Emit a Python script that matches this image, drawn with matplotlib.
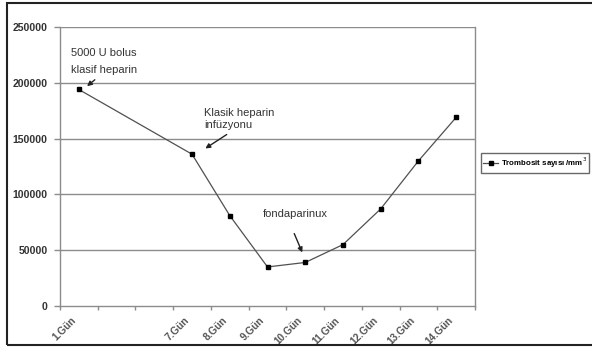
import matplotlib.pyplot as plt
from matplotlib.patches import Rectangle
from matplotlib.transforms import ScaledTranslation, blended_transform_factory

days = ["1.Gün", "", "", "7.Gün", "8.Gün", "9.Gün", "10.Gün",
        "11.Gün", "12.Gün", "13.Gün", "14.Gün"]
point_days = [0, 3, 4, 5, 6, 7, 8, 9, 10]
trombosit = [194000, 136000, 81000, 35000, 39000, 55000, 87000, 130000, 169000]
y_ticks = [0, 50000, 100000, 150000, 200000, 250000]

plt.rcParams['font.family'] = ['Liberation Sans', 'DejaVu Sans']

fig = plt.figure(figsize=(5.92, 3.47), dpi=100)
W, H = 592, 347
ax = fig.add_axes([60 / W, 1 - 306 / H, (475 - 60) / W, (306 - 27) / H])

grid_col = '#8c8c8c'
for y in y_ticks[1:]:
    ax.axhline(y, color=grid_col, lw=1.0, zorder=1)

ax.plot(point_days, trombosit, color='#505050', lw=0.9, marker='s',
        markersize=3, markerfacecolor='black', markeredgecolor='black',
        label="Trombosit sayısı /mm$^3$", zorder=3)

ax.set_xlim(-0.5, len(days) - 0.5)
ax.set_ylim(0, 250000)
# category boundaries carry the tick marks, labels are drawn at the centres
ax.set_xticks([i - 0.5 for i in range(len(days) + 1)])
ax.set_xticklabels([])
ax.tick_params(axis='x', length=3, width=1, color=grid_col, direction='out')
lab_tr = blended_transform_factory(ax.transData, ax.transAxes) + \
    ScaledTranslation(-8 / 100, -9 / 100, fig.dpi_scale_trans)
for i, d in enumerate(days):
    ax.text(i, 0, d, transform=lab_tr, rotation=45, ha='right', va='top',
            rotation_mode='anchor', fontsize=7.3, fontweight='bold',
            color='#555555', clip_on=False)

ax.set_yticks(y_ticks)
ax.set_yticklabels([str(v) for v in y_ticks], fontsize=7.6, fontweight='bold',
                   color='#333333')
ax.tick_params(axis='y', length=4, width=1, color=grid_col, pad=5)
for s in ax.spines.values():
    s.set_color(grid_col)
    s.set_linewidth(1.0)
ax.spines['top'].set_visible(False)

ann = dict(fontsize=8, color='#333333', va='center')
arrow = dict(arrowstyle='-|>', color='#222222', lw=1, mutation_scale=7)
ax.text(-0.21, 226700, "5000 U bolus", **ann)
ax.text(-0.21, 211500, "klasif heparin", **ann)
ax.annotate("", xy=(0.16, 195400), xytext=(0.48, 204300), arrowprops=arrow)
ax.text(3.32, 172900, "Klasik heparin", **ann)
ax.text(3.32, 162200, "infüzyonu", **ann)
ax.annotate("", xy=(3.29, 139800), xytext=(3.98, 155000), arrowprops=arrow)
ax.text(4.88, 82400, "fondaparinux", **ann)
ax.annotate("", xy=(5.95, 45700), xytext=(5.68, 67200), arrowprops=arrow)

leg = ax.legend(loc='center left', bbox_to_anchor=(481 / W, 1 - 163 / H),
                bbox_transform=fig.transFigure, frameon=True, fancybox=False,
                handlelength=1.9, handletextpad=0.3, borderpad=0.3,
                borderaxespad=0, prop={'size': 5.7, 'weight': 'bold'})
leg.get_frame().set_edgecolor('#444444')
leg.get_frame().set_linewidth(1.0)

fig.patches.append(Rectangle((7 / W, 2 / H), 1.0, 1 - 5 / H,
                             transform=fig.transFigure, fill=False,
                             edgecolor='#222222', lw=1.5))

fig.savefig("out.png", dpi=100)
